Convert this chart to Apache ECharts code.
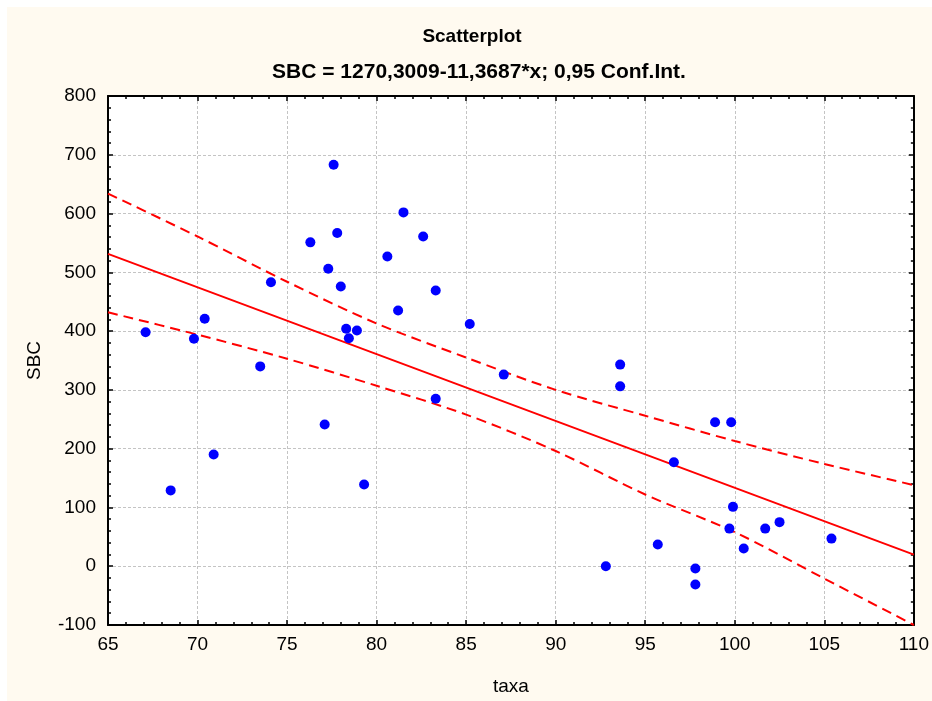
<!DOCTYPE html>
<html>
<head>
<meta charset="utf-8">
<script src="https://cdn.jsdelivr.net/npm/echarts@6/dist/echarts.min.js"></script>
<style>
html,body{margin:0;padding:0;background:#fff;}
#c{width:932px;height:701px;}
</style>
</head>
<body>
<div id="c"></div>
<script>
// ---- data ----
const taxa = [67.1, 68.5, 69.8, 70.4, 70.9, 73.5, 74.1, 76.3, 77.1, 77.3,
              77.6, 77.8, 78.0, 78.3, 78.45, 78.9, 79.3, 80.6, 81.2, 81.5,
              82.6, 83.3, 83.3, 85.2, 87.1, 92.8, 93.6, 93.6, 95.7, 96.6,
              97.8, 97.8, 98.9, 99.8, 99.9, 99.7, 100.5, 101.7, 102.5, 105.4];
const sbc  = [398, 129, 387, 421, 190, 340, 483, 551, 241, 506,
              683, 567, 476, 404, 388, 401, 139, 527, 435, 602,
              561, 469, 285, 412, 326, 0, 343, 306, 37, 177,
              -4, -31, 245, 245, 101, 64, 30, 64, 75, 47];
// regression coefficients from the subtitle
const intercept = 1270.3009;
const slope = -11.3687;
const lineX = [65, 110];
// 0.95 confidence band
const bandX = [65, 70, 75, 80, 85, 90, 95, 100, 105, 110];
const bandUpper = [634, 561, 484, 413, 355, 300, 256, 213, 174, 138];
const bandLower = [432, 394, 353, 307, 258, 196, 122, 58, -21, -100];
const xTicks = {min: 65, max: 110, interval: 5};
const yTicks = {min: -100, max: 800, interval: 100};
const titleText = 'Scatterplot';
const subtitleText = 'SBC = 1270,3009-11,3687*x; 0,95 Conf.Int.';

const FONT = '"Liberation Sans", Arial, sans-serif';
const chart = echarts.init(document.getElementById('c'), null, {renderer: 'canvas'});

const pts = taxa.map((x, i) => [x, sbc[i]]);
const regLine = lineX.map(x => [x, intercept + slope * x]);
const up = bandX.map((x, i) => [x, bandUpper[i]]);
const lo = bandX.map((x, i) => [x, bandLower[i]]);

const axisLineStyle = {color: '#000', width: 2};
const baseX = {
  type: 'value', min: xTicks.min, max: xTicks.max, interval: xTicks.interval,
  axisLine: {show: true, onZero: false, lineStyle: axisLineStyle},
  axisTick: {show: true, inside: true, length: 5, lineStyle: {color: '#000', width: 1.5}},
  minorTick: {show: true, splitNumber: 5, length: 3, lineStyle: {color: '#000', width: 1.5}},
  splitLine: {show: false}
};
const baseY = {
  type: 'value', min: yTicks.min, max: yTicks.max, interval: yTicks.interval,
  axisLine: {show: true, onZero: false, lineStyle: axisLineStyle},
  axisTick: {show: true, inside: true, length: 5, lineStyle: {color: '#000', width: 1.5}},
  minorTick: {show: true, splitNumber: 5, length: 3, lineStyle: {color: '#000', width: 1.5}},
  splitLine: {show: false}
};

chart.setOption({
  backgroundColor: '#ffffff',
  animation: false,
  textStyle: {fontFamily: FONT},
  graphic: [{
    type: 'rect', z: -10, silent: true,
    shape: {x: 7, y: 7, width: 925, height: 694},
    style: {fill: '#fffaf0'}
  }],
  title: [
    {text: titleText, left: 467, top: 22, textAlign: 'center',
     textStyle: {fontFamily: FONT, fontSize: 19, fontWeight: 'bold', color: '#000'}},
    {text: subtitleText, left: 474, top: 57, textAlign: 'center',
     textStyle: {fontFamily: FONT, fontSize: 21, fontWeight: 'bold', color: '#000'}}
  ],
  grid: {left: 108, right: 15, top: 96, bottom: 74, show: true,
         backgroundColor: '#ffffff', borderWidth: 0},
  xAxis: [
    Object.assign({}, baseX, {
      position: 'bottom', name: 'taxa', nameLocation: 'middle', nameGap: 52,
      nameTextStyle: {fontFamily: FONT, fontSize: 19, color: '#000'},
      axisLabel: {show: true, margin: 10, fontFamily: FONT, fontSize: 19, color: '#000'},
      splitLine: {show: true, lineStyle: {color: '#c4c4c4', width: 1, type: [3, 2]}}
    }),
    Object.assign({}, baseX, {position: 'top', axisLabel: {show: false}})
  ],
  yAxis: [
    Object.assign({}, baseY, {
      position: 'left', name: 'SBC', nameLocation: 'middle', nameGap: 64, nameRotate: 90,
      nameTextStyle: {fontFamily: FONT, fontSize: 19, color: '#000'},
      axisLabel: {show: true, margin: 12, fontFamily: FONT, fontSize: 19, color: '#000'},
      splitLine: {show: true, lineStyle: {color: '#c4c4c4', width: 1, type: [3, 2]}}
    }),
    Object.assign({}, baseY, {position: 'right', axisLabel: {show: false}})
  ],
  series: [
    {type: 'line', data: up, smooth: 0.3, symbol: 'none', clip: true, z: 3,
     lineStyle: {color: '#ff0000', width: 2, type: [10, 6]}},
    {type: 'line', data: lo, smooth: 0.3, symbol: 'none', clip: true, z: 3,
     lineStyle: {color: '#ff0000', width: 2, type: [10, 6]}},
    {type: 'line', data: regLine, symbol: 'none', clip: true, z: 3,
     lineStyle: {color: '#ff0000', width: 2}},
    {type: 'scatter', data: pts, symbol: 'circle', symbolSize: 10, z: 5,
     itemStyle: {color: '#0000ff', opacity: 1}}
  ]
});
</script>
</body>
</html>
